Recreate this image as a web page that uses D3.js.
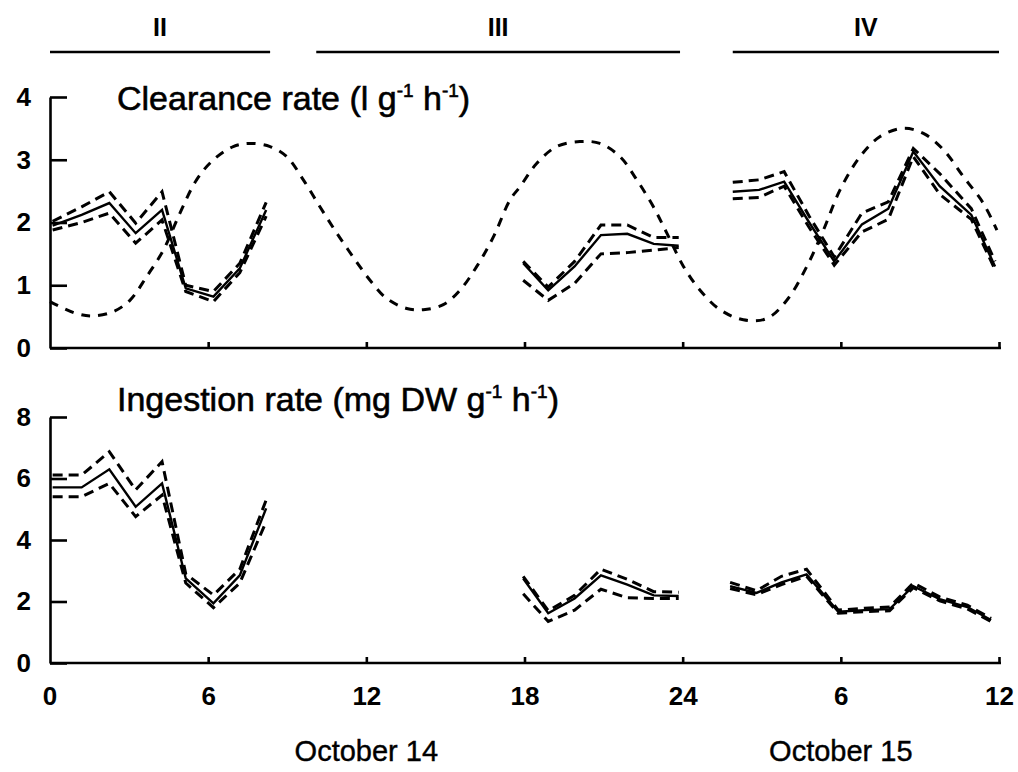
<!DOCTYPE html>
<html>
<head>
<meta charset="utf-8">
<script src="https://cdn.jsdelivr.net/npm/d3@7"></script>
<style>
  html, body { margin: 0; padding: 0; background: #fff; }
  svg { display: block; }
  text { font-family: "Liberation Sans", Arial, Helvetica, sans-serif; fill: #000; }
</style>
</head>
<body>
<svg id="chart" width="1018" height="772"></svg>
<script>
// Time axis: hours from midnight October 14 (0..36)
const xTickValues = [0, 6, 12, 18, 24, 30, 36];
const xTickLabels = ["0", "6", "12", "18", "24", "6", "12"];
const dayLabels = ["October 14", "October 15"];
const dayLabelHours = [12, 30];

// Experimental periods shown above the chart
const periodNames = ["II", "III", "IV"];
const periodStart = [0, 10.1, 25.9];
const periodEnd = [8.35, 23.9, 36];

// Tidal reference curve (clearance panel), hour / value pairs
const tideHours = [0, 1.0, 1.64, 2.4, 3.03, 3.67, 4.3, 4.93, 5.56, 6.2, 6.95, 7.59, 8.35, 8.98, 9.61,
  10.24, 10.88, 11.5, 12.14, 12.77, 13.53, 14.16, 14.92, 15.55, 16.19, 16.82, 17.45, 17.83, 18.46,
  19.22, 20.1, 20.86, 21.62, 22.26, 22.89, 23.4, 24.03, 24.66, 25.42, 26.3, 27.19, 27.95, 28.71,
  29.34, 29.97, 30.73, 31.49, 32.37, 33.13, 33.89, 34.65, 35.4, 35.92];
const tideValues = [0.74, 0.55, 0.51, 0.58, 0.76, 1.14, 1.56, 2.15, 2.68, 3.0, 3.21, 3.26, 3.21, 3.05, 2.68,
  2.25, 1.83, 1.45, 1.08, 0.79, 0.63, 0.61, 0.69, 0.92, 1.30, 1.77, 2.36, 2.57, 2.94,
  3.21, 3.29, 3.26, 3.05, 2.68, 2.25, 1.83, 1.30, 0.92, 0.61, 0.45, 0.47, 0.76, 1.30,
  1.88, 2.52, 3.05, 3.37, 3.50, 3.42, 3.16, 2.73, 2.31, 1.88];

// Sampling hours of each period
const hoursII = [0.1, 1.2, 2.25, 3.25, 4.25, 5.15, 6.2, 7.2, 8.2];
const hoursIII = [17.95, 18.9, 19.9, 20.9, 21.9, 22.9, 23.85];
const hoursIVclear = [25.9, 26.9, 27.85, 28.8, 29.75, 30.8, 31.8, 32.75, 33.75, 34.95, 35.85];
const hoursIVingest = [25.8, 26.8, 27.75, 28.7, 29.9, 30.9, 31.85, 32.75, 33.75, 34.8, 35.7];

// Clearance rate (l g-1 h-1): mean with upper / lower limits
const clearMeanII = [1.95, 2.12, 2.31, 1.83, 2.2, 0.95, 0.82, 1.27, 2.2];
const clearUpperII = [2.02, 2.25, 2.49, 1.99, 2.49, 1.0, 0.9, 1.35, 2.32];
const clearLowerII = [1.88, 2.0, 2.15, 1.67, 2.04, 0.9, 0.74, 1.2, 2.1];
const clearMeanIII = [1.35, 0.92, 1.3, 1.80, 1.82, 1.66, 1.63];
const clearUpperIII = [1.38, 0.97, 1.38, 1.96, 1.96, 1.76, 1.76];
const clearLowerIII = [1.08, 0.76, 1.03, 1.5, 1.52, 1.56, 1.6];
const clearMeanIV = [2.49, 2.52, 2.65, 2.0, 1.38, 1.97, 2.22, 3.13, 2.58, 2.12, 1.3];
const clearUpperIV = [2.64, 2.68, 2.81, 2.1, 1.45, 2.15, 2.33, 3.18, 2.78, 2.22, 1.38];
const clearLowerIV = [2.38, 2.40, 2.58, 1.92, 1.32, 1.85, 2.05, 3.05, 2.45, 2.05, 1.25];

// Ingestion rate (mg DW g-1 h-1): mean with upper / lower limits
const ingMeanII = [5.71, 5.71, 6.3, 5.08, 5.84, 2.75, 1.94, 2.85, 5.03];
const ingUpperII = [6.11, 6.11, 6.87, 5.63, 6.55, 2.9, 2.21, 3.05, 5.3];
const ingLowerII = [5.41, 5.41, 5.84, 4.76, 5.46, 2.6, 1.8, 2.6, 4.6];
const ingMeanIII = [2.75, 1.62, 2.1, 2.85, 2.55, 2.2, 2.18];
const ingUpperIII = [2.82, 1.7, 2.2, 3.05, 2.72, 2.32, 2.3];
const ingLowerIII = [2.25, 1.35, 1.72, 2.4, 2.12, 2.1, 2.1];
const ingMeanIV = [2.5, 2.28, 2.62, 2.88, 1.67, 1.72, 1.75, 2.5, 2.08, 1.82, 1.4];
const ingUpperIV = [2.62, 2.35, 2.82, 3.05, 1.72, 1.78, 1.82, 2.6, 2.15, 1.88, 1.45];
const ingLowerIV = [2.42, 2.22, 2.55, 2.82, 1.62, 1.67, 1.7, 2.45, 2.02, 1.76, 1.35];

const clearTicks = [0, 1, 2, 3, 4];
const ingTicks = [0, 2, 4, 6, 8];

const svg = d3.select("#chart");
const x = d3.scaleLinear().domain([0, 36]).range([50, 999]);
const yClear = d3.scaleLinear().domain([0, 4]).range([348, 97]);
const yIng = d3.scaleLinear().domain([0, 8]).range([663, 417]);

const zip = (h, v) => h.map((d, i) => [d, v[i]]);
const tickFont = "26px";

function drawPanel(y, ticks, withLabels) {
  const g = svg.append("g");
  const yAxis = d3.axisLeft(y).tickValues(ticks).tickFormat(d3.format("d"))
    .tickSizeInner(-17).tickSizeOuter(0).tickPadding(19);
  const ya = g.append("g").attr("transform", `translate(${x(0)},0)`).call(yAxis);
  ya.selectAll("text").style("font-size", tickFont).style("font-weight", "bold");
  const xAxis = d3.axisBottom(x).tickValues(xTickValues.slice(1)).tickSizeInner(-6).tickSizeOuter(0).tickPadding(24)
    .tickFormat(d => withLabels ? xTickLabels[xTickValues.indexOf(d)] : "");
  const xa = g.append("g").attr("transform", `translate(0,${y(0)})`).call(xAxis);
  xa.select(".domain").attr("d", `M${x(0)},0H${x(36) + 2}`);
  if (withLabels) {
    xa.append("text").attr("x", x(0)).attr("y", 24).attr("dy", "0.71em")
      .attr("text-anchor", "middle").text(xTickLabels[0]);
    xa.selectAll("text").style("font-size", tickFont).style("font-weight", "bold").attr("fill", "#000");
  }
  [ya, xa].forEach(a => {
    a.selectAll(".domain, line").attr("stroke", "#000").attr("stroke-width", 2.6);
    a.attr("font-family", null);
  });
  return g;
}

drawPanel(yClear, clearTicks, false);
drawPanel(yIng, ingTicks, true);

const line = y => d3.line().x(d => x(d[0])).y(d => y(d[1]));

function drawSeries(y, hours, mean, upper, lower) {
  const g = svg.append("g").attr("fill", "none").attr("stroke", "#000");
  [upper, lower].forEach(v => {
    g.append("path").attr("d", line(y)(zip(hours, v)))
      .attr("stroke-width", 3).attr("stroke-dasharray", "10,6");
  });
  g.append("path").attr("d", line(y)(zip(hours, mean))).attr("stroke-width", 2.4);
}

// Tide curve
svg.append("path")
  .attr("d", line(yClear).curve(d3.curveCatmullRom)(zip(tideHours, tideValues)))
  .attr("fill", "none").attr("stroke", "#000").attr("stroke-width", 3).attr("stroke-dasharray", "9,8");

drawSeries(yClear, hoursII, clearMeanII, clearUpperII, clearLowerII);
drawSeries(yClear, hoursIII, clearMeanIII, clearUpperIII, clearLowerIII);
drawSeries(yClear, hoursIVclear, clearMeanIV, clearUpperIV, clearLowerIV);
drawSeries(yIng, hoursII, ingMeanII, ingUpperII, ingLowerII);
drawSeries(yIng, hoursIII, ingMeanIII, ingUpperIII, ingLowerIII);
drawSeries(yIng, hoursIVingest, ingMeanIV, ingUpperIV, ingLowerIV);

// Panel titles with superscript exponents
function title(yPos, parts) {
  const t = svg.append("text").attr("x", 117).attr("y", yPos).style("font-size", "34px")
    .attr("stroke", "#000").attr("stroke-width", 0.6);
  parts.forEach(p => {
    if (p.sup) {
      t.append("tspan").attr("dy", -13).style("font-size", "19px").text(p.sup);
      t.append("tspan").attr("dy", 13).text(p.after);
    } else {
      t.append("tspan").text(p.text);
    }
  });
}
title(110, [{ text: "Clearance rate (l g" }, { sup: "-1", after: " h" }, { sup: "-1", after: ")" }]);
title(411, [{ text: "Ingestion rate (mg DW g" }, { sup: "-1", after: " h" }, { sup: "-1", after: ")" }]);

// Period bars and names
const periods = svg.append("g");
periodNames.forEach((name, i) => {
  periods.append("line").attr("x1", x(periodStart[i])).attr("x2", x(periodEnd[i]))
    .attr("y1", 52).attr("y2", 52).attr("stroke", "#000").attr("stroke-width", 2.6);
  periods.append("text").attr("x", (x(periodStart[i]) + x(periodEnd[i])) / 2).attr("y", 36)
    .attr("text-anchor", "middle").style("font-size", "25px").style("font-weight", "bold").text(name);
});

// Day labels below the time axis
dayLabels.forEach((d, i) => {
  svg.append("text").attr("x", x(dayLabelHours[i])).attr("y", 761).attr("text-anchor", "middle")
    .style("font-size", "29px").attr("stroke", "#000").attr("stroke-width", 0.4).text(d);
});
</script>
</body>
</html>
